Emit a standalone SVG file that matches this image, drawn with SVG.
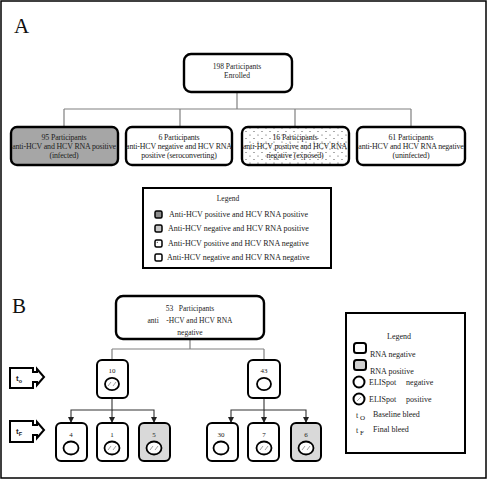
<svg xmlns="http://www.w3.org/2000/svg" width="487" height="480" viewBox="0 0 487 480">
<defs>
<style>
text{font-family:"Liberation Serif","Times New Roman",serif;fill:#222;white-space:pre;}
.big{font-size:21px;fill:#111;}
.t75{font-size:7.5px;}
.t8{font-size:8px;}
.tb{font-size:7.9px;letter-spacing:-0.15px;}
.t7{font-size:7px;}
.node{fill:#fff;stroke:#000;stroke-width:2.4;}
.sm{fill:#fff;stroke:#000;stroke-width:2;}
.conn{fill:none;stroke:#808080;stroke-width:1.2;}
.arr{fill:none;stroke:#333;stroke-width:1.1;marker-end:url(#ah);}
.circ{fill:#fff;stroke:#000;stroke-width:1.8;}
.hatch{stroke:#888;stroke-width:0.8;}
</style>
<pattern id="dots" width="8" height="7" patternUnits="userSpaceOnUse">
<rect width="8" height="7" fill="#fff"/>
<circle cx="2" cy="2" r="0.6" fill="#444"/>
<circle cx="6" cy="5.5" r="0.6" fill="#444"/>
</pattern>
<marker id="ah" markerWidth="6" markerHeight="6" refX="5" refY="3" orient="auto" markerUnits="userSpaceOnUse">
<path d="M0,0 L6,3 L0,6 Z" fill="#222"/>
</marker>
<g id="hc">
<line class="hatch" x1="-4" y1="2" x2="-1" y2="-2"/>
<line class="hatch" x1="1" y1="2" x2="4" y2="-2"/>
</g>
</defs>
<rect x="1" y="1" width="485" height="477" fill="#fff" stroke="#000" stroke-width="1.5"/>
<text class="big" x="14" y="33">A</text>
<text class="big" x="12" y="313">B</text>

<g id="connectors">
<path class="conn" d="M237,92 V109 M64,109 H411 M64,109 V127 M180,109 V127 M295,109 V127 M411,109 V127"/>
<path class="conn" d="M190,339 V349 M112,349 H264 M112,349 V360 M264,349 V360"/>
<path class="arr" d="M112,398 V410 H71 V422"/>
<path class="arr" d="M112,410 V422"/>
<path class="arr" d="M112,410 H154 V422"/>
<path class="arr" d="M264,398 V410 H231 V422"/>
<path class="arr" d="M264,410 V422"/>
<path class="arr" d="M264,410 H306 V422"/>
</g>

<g id="enrolled">
<rect class="node" x="184" y="54" width="108" height="38" rx="7"/>
<text class="t75" x="237" y="69" text-anchor="middle">198 Participants</text>
<text class="t75" x="237" y="78" text-anchor="middle">Enrolled</text>
</g>
<g id="infected">
<rect class="node" x="11" y="127" width="107" height="38" rx="6" style="fill:#a6a6a6"/>
<text class="tb" x="64" y="140" text-anchor="middle">95 Participants</text>
<text class="tb" x="64" y="149" text-anchor="middle">anti-HCV and HCV RNA positive</text>
<text class="tb" x="64" y="158" text-anchor="middle">(infected)</text>
</g>
<g id="seroconverting">
<rect class="node" x="126" y="127" width="106" height="38" rx="6"/>
<text class="tb" x="179" y="140" text-anchor="middle">6 Participants</text>
<text class="tb" x="179" y="149" text-anchor="middle">anti-HCV negative and HCV RNA</text>
<text class="tb" x="179" y="158" text-anchor="middle">positive (seroconverting)</text>
</g>
<g id="exposed">
<rect class="node" x="242" y="127" width="107" height="38" rx="6" style="fill:url(#dots)"/>
<text class="tb" x="295" y="140" text-anchor="middle">16 Participants</text>
<text class="tb" x="295" y="149" text-anchor="middle">anti-HCV positive and HCV RNA</text>
<text class="tb" x="295" y="158" text-anchor="middle">negative (exposed)</text>
</g>
<g id="uninfected">
<rect class="node" x="357" y="127" width="108" height="38" rx="6"/>
<text class="tb" x="411" y="140" text-anchor="middle">61 Participants</text>
<text class="tb" x="411" y="149" text-anchor="middle">anti-HCV and HCV RNA negative</text>
<text class="tb" x="411" y="158" text-anchor="middle">(uninfected)</text>
</g>

<g id="legendA">
<rect x="143" y="188" width="188" height="80" fill="#fff" stroke="#000" stroke-width="2"/>
<text class="t75" x="228" y="201" text-anchor="middle">Legend</text>
<rect x="155" y="211" width="7" height="7" rx="1.5" fill="#8c8c8c" stroke="#000" stroke-width="1.5"/>
<text class="t8" x="169" y="217">Anti-HCV positive and HCV RNA positive</text>
<rect x="155" y="225" width="7" height="7" rx="1.5" fill="#c8c8c8" stroke="#000" stroke-width="1.5"/>
<text class="t8" x="168" y="231">Anti-HCV negative and HCV RNA positive</text>
<rect x="155" y="240" width="7" height="7" rx="1.5" fill="#fff" stroke="#000" stroke-width="1.5"/>
<circle cx="157.3" cy="242.3" r="0.6" fill="#333"/>
<text class="t8" x="168" y="246">Anti-HCV positive and HCV RNA negative</text>
<rect x="155" y="254" width="7" height="7" rx="1.5" fill="#fff" stroke="#000" stroke-width="1.5"/>
<text class="t8" x="167" y="260">Anti-HCV negative and HCV RNA negative</text>
</g>

<g id="participants53">
<rect class="node" x="116" y="296" width="148" height="43" rx="7"/>
<text class="t75" x="190" y="311" text-anchor="middle">53   Participants</text>
<text class="t75" x="190" y="323" text-anchor="middle">anti    -HCV and HCV RNA</text>
<text class="t75" x="190" y="335" text-anchor="middle">negative</text>
</g>

<g id="t0">
<path class="sm" d="M10,368 H33 V372 H37 V369 L44,377 L37,385 V382 H33 V388 H10 Z"/>
<text class="t8" x="16" y="381" style="font-family:'Liberation Sans',Arial,sans-serif;font-weight:bold">t<tspan font-size="5.5" dy="1.5">o</tspan></text>
</g>
<g id="tF">
<path class="sm" d="M10,421 H33 V425 H37 V422 L44,430 L37,438 V435 H33 V442 H10 Z"/>
<text class="t8" x="16" y="434" style="font-family:'Liberation Sans',Arial,sans-serif;font-weight:bold">t<tspan font-size="5.5" dy="1.5">F</tspan></text>
</g>

<g id="b10">
<rect class="sm" x="97" y="360" width="31" height="38" rx="5"/>
<text class="t7" x="112" y="373" text-anchor="middle">10</text>
<ellipse class="circ" cx="112" cy="384" rx="7" ry="6.2"/>
<use href="#hc" x="112" y="384"/>
</g>
<g id="b43">
<rect class="sm" x="248" y="360" width="32" height="38" rx="5"/>
<text class="t7" x="264" y="373" text-anchor="middle">43</text>
<ellipse class="circ" cx="264" cy="384" rx="7" ry="6.2"/>
</g>

<g id="b4">
<rect class="sm" x="56" y="423" width="31" height="38" rx="5"/>
<text class="t7" x="71" y="437" text-anchor="middle">4</text>
<ellipse class="circ" cx="71" cy="448" rx="7.5" ry="6.5"/>
</g>
<g id="b1">
<rect class="sm" x="97" y="423" width="31" height="38" rx="5"/>
<text class="t7" x="112" y="437" text-anchor="middle">1</text>
<ellipse class="circ" cx="112" cy="448" rx="7.5" ry="6.5"/>
<use href="#hc" x="112" y="448"/>
</g>
<g id="b5">
<rect class="sm" x="139" y="423" width="31" height="38" rx="5" style="fill:#d9d9d9"/>
<text class="t7" x="154" y="437" text-anchor="middle">5</text>
<ellipse class="circ" cx="154" cy="448" rx="7.5" ry="6.5"/>
<use href="#hc" x="154" y="448"/>
</g>
<g id="b30">
<rect class="sm" x="207" y="423" width="31" height="38" rx="5"/>
<text class="t7" x="221" y="437" text-anchor="middle">30</text>
<ellipse class="circ" cx="221" cy="448" rx="7.5" ry="6.5"/>
</g>
<g id="b7">
<rect class="sm" x="248" y="423" width="31" height="38" rx="5"/>
<text class="t7" x="264" y="437" text-anchor="middle">7</text>
<ellipse class="circ" cx="264" cy="448" rx="7.5" ry="6.5"/>
<use href="#hc" x="264" y="448"/>
</g>
<g id="b6">
<rect class="sm" x="291" y="423" width="30" height="38" rx="5" style="fill:#d9d9d9"/>
<text class="t7" x="306" y="437" text-anchor="middle">6</text>
<ellipse class="circ" cx="306" cy="448" rx="7.5" ry="6.5"/>
<use href="#hc" x="306" y="448"/>
</g>

<g id="legendB">
<rect x="346" y="313" width="119" height="140" fill="#fff" stroke="#000" stroke-width="2"/>
<text class="t8" x="399" y="339" text-anchor="middle">Legend</text>
<rect x="354" y="343" width="12" height="10" rx="2.5" fill="#fff" stroke="#000" stroke-width="2"/>
<text class="t8" x="370" y="357">RNA negative</text>
<rect x="354" y="360" width="12" height="10" rx="2.5" fill="#d0d0d0" stroke="#000" stroke-width="2"/>
<text class="t8" x="370" y="374">RNA positive</text>
<circle cx="359" cy="382" r="5.5" fill="#fff" stroke="#000" stroke-width="2"/>
<text class="t8" x="369" y="385">ELISpot     negative</text>
<circle cx="359" cy="399" r="5.5" fill="#fff" stroke="#000" stroke-width="2"/>
<line class="hatch" x1="357" y1="401" x2="361" y2="397"/>
<text class="t8" x="369" y="402">ELISpot     positive</text>
<text class="t8" x="356" y="418">t<tspan font-size="7" dy="2"> O</tspan></text>
<text class="t8" x="373" y="417">Baseline bleed</text>
<text class="t8" x="356" y="433">t<tspan font-size="7" dy="2"> F</tspan></text>
<text class="t8" x="373" y="432">Final bleed</text>
</g>
</svg>
